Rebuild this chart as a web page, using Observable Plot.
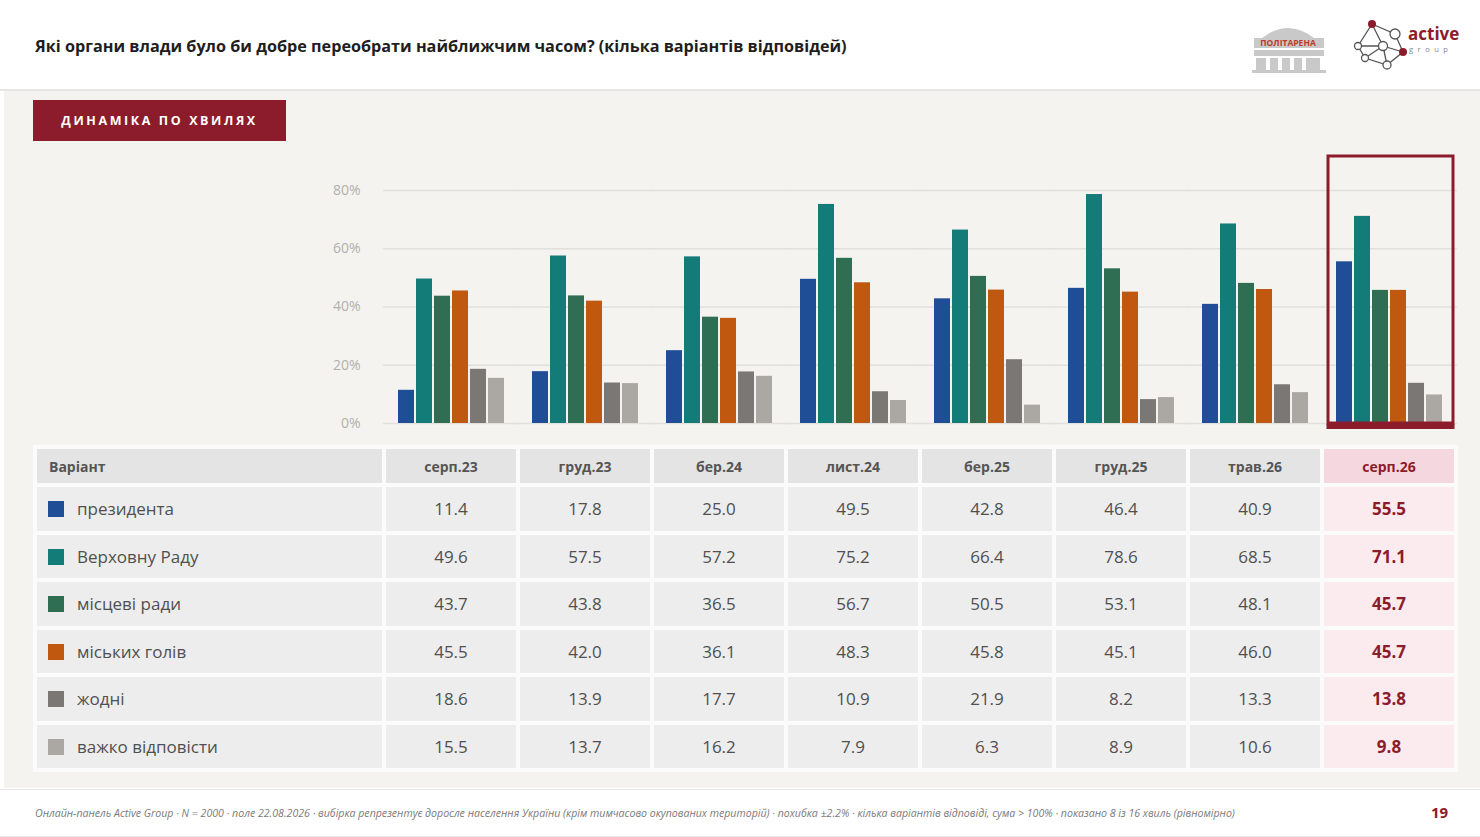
<!DOCTYPE html>
<html><head><meta charset="utf-8">
<script src="https://cdn.jsdelivr.net/npm/d3@7"></script>
<script src="https://cdn.jsdelivr.net/npm/@observablehq/plot@0.6"></script>
<style>
body{margin:0;width:1480px;height:837px;position:relative;overflow:hidden;font-family:"Open Sans",sans-serif;background:#fff;}
#header{position:absolute;left:0;top:0;width:1480px;height:89px;background:#fff;border-bottom:2px solid #e7e5e2;}
#title{position:absolute;left:35px;top:35px;font-weight:700;font-size:16.2px;line-height:22px;color:#1e1e1e;white-space:nowrap;}
#slide{position:absolute;left:4px;top:91px;width:1476px;height:697px;background:#f5f3f0;}
#badge{position:absolute;left:33px;top:100px;width:253px;height:41px;background:#8c1c2b;color:#fff;font-weight:700;font-size:12.5px;letter-spacing:2.6px;line-height:41px;text-align:center;}
#chart{position:absolute;left:0;top:140px;}
#tbl{position:absolute;left:33px;top:445px;background:#fbfbfb;border-collapse:separate;border-spacing:4px;}
#tbl th,#tbl td{padding:0;box-sizing:border-box;white-space:nowrap;}
#tbl th{height:34px;background:#e4e4e4;font-size:14px;font-weight:700;color:#555;text-align:center;width:130px;}
#tbl th.first{width:345px;text-align:left;padding-left:12px;}
#tbl td{height:43.5px;background:#ededed;font-size:17px;color:#505050;text-align:center;width:130px;}
#tbl td.first{width:345px;text-align:left;padding-left:11px;}
#tbl .sw{display:inline-block;width:16px;height:16px;vertical-align:-2px;margin-right:13px;}
#tbl th.hl{background:#f5d8df;color:#8c1c2b;}
#tbl td.hl{background:#fcebee;color:#8c1c2b;font-weight:700;}
#footer{position:absolute;left:0;top:789px;width:1480px;height:46px;background:#fff;border-top:1px solid #e6e6e6;border-bottom:2px solid #ececec;}
#note{position:absolute;left:35px;top:16px;font-style:italic;font-size:10.6px;color:#7a7a7a;white-space:nowrap;}
#page{position:absolute;left:1431px;top:12px;font-weight:700;font-size:15px;color:#8c1c2b;}
#logos{position:absolute;left:1240px;top:10px;}
</style></head>
<body>
<div id="header">
  <div id="title">Які органи влади було би добре переобрати найближчим часом? (кілька варіантів відповідей)</div>
  <svg id="logos" width="240" height="70" viewBox="0 0 240 70">
    <g fill="#c9c9c9">
      <path d="M22 28 Q48 8 74 28 Z"/>
      <rect x="14" y="28" width="70" height="10"/>
      <rect x="14" y="40" width="70" height="6"/>
      <rect x="16" y="48" width="10" height="14"/><rect x="30" y="48" width="8" height="14"/>
      <rect x="42" y="48" width="8" height="14"/><rect x="54" y="48" width="8" height="14"/>
      <rect x="66" y="48" width="14" height="14"/>
      <rect x="12" y="60" width="74" height="3"/>
    </g>
    <text x="48" y="36" text-anchor="middle" font-size="8.5" font-weight="700" fill="#c0392b" font-family="Open Sans">ПОЛІТАРЕНА</text>
    <g stroke="#555" stroke-width="1.3" fill="none">
      <path d="M132 14 L155 24 L163 42 L147 55 L125 48 L118 36 Z M132 14 L143 36 L163 42 M143 36 L125 48 M143 36 L147 55 M118 36 L143 36"/>
    </g>
    <circle cx="132" cy="14" r="4" fill="#8c1c2b"/>
    <circle cx="155" cy="24" r="5" fill="#fff" stroke="#555" stroke-width="1.3"/>
    <circle cx="163" cy="42" r="4" fill="#8c1c2b"/>
    <circle cx="147" cy="55" r="4" fill="#fff" stroke="#555" stroke-width="1.3"/>
    <circle cx="125" cy="48" r="3.5" fill="#fff" stroke="#555" stroke-width="1.3"/>
    <circle cx="118" cy="36" r="3.5" fill="#fff" stroke="#555" stroke-width="1.3"/>
    <circle cx="143" cy="36" r="4.5" fill="#fff" stroke="#555" stroke-width="1.3"/>
    <text x="168" y="30" font-size="17" font-weight="700" fill="#8c1c2b" font-family="Open Sans">active</text>
    <text x="169" y="42" font-size="7.5" letter-spacing="4.5" fill="#888" font-family="Open Sans">group</text>
  </svg>
</div>
<div id="slide"></div>
<div id="badge">ДИНАМІКА ПО ХВИЛЯХ</div>
<div id="chart"></div>
<table id="tbl"></table>
<div id="footer">
  <div id="note">Онлайн-панель Active Group · N = 2000 · поле 22.08.2026 · вибірка репрезентує доросле населення України (крім тимчасово окупованих територій) · похибка ±2.2% · кілька варіантів відповіді, сума &gt; 100% · показано 8 із 16 хвиль (рівномірно)</div>
  <div id="page">19</div>
</div>
<script>
const waves = ["серп.23","груд.23","бер.24","лист.24","бер.25","груд.25","трав.26","серп.26"];
const seriesNames = ["президента","Верховну Раду","місцеві ради","міських голів","жодні","важко відповісти"];
const seriesColors = ["#1f4e97","#137b78","#2f6e53","#c1580f","#7b7775","#aba8a4"];
const president = [11.4,17.8,25.0,49.5,42.8,46.4,40.9,55.5];
const rada      = [49.6,57.5,57.2,75.2,66.4,78.6,68.5,71.1];
const localCouncils = [43.7,43.8,36.5,56.7,50.5,53.1,48.1,45.7];
const mayors    = [45.5,42.0,36.1,48.3,45.8,45.1,46.0,45.7];
const noneOf    = [18.6,13.9,17.7,10.9,21.9,8.2,13.3,13.8];
const hardToSay = [15.5,13.7,16.2,7.9,6.3,8.9,10.6,9.8];
const yTicks = [0,20,40,60,80];
const highlightWave = "серп.26";
const yMax = 92;

const seriesValues = [president, rada, localCouncils, mayors, noneOf, hardToSay];
const rows = waves.flatMap((w,i)=>seriesNames.map((s,j)=>({wave:w, series:s, value:seriesValues[j][i]})));
const RED = "#8c1c2b";

const chart = Plot.plot({
  width:1480, height:300, marginLeft:396, marginRight:36, marginTop:15, marginBottom:17,
  style:{background:"transparent", fontFamily:"Open Sans", fontSize:"14px"},
  fx:{domain:waves, padding:0.18, axis:null, label:null},
  x:{domain:seriesNames, padding:0.1, axis:null},
  y:{domain:[0,yMax]},
  color:{domain:seriesNames, range:seriesColors},
  marks:[
    Plot.ruleY(yTicks, {stroke:"#e2e0dc", strokeWidth:1.5, insetLeft:-13, insetRight:-13}),
    Plot.axisY(yTicks, {tickSize:0, tickPadding:36, tickFormat:d=>d+"%", label:null, color:"#b0b0b0", fontSize:14}),
    Plot.barY(rows, {fx:"wave", x:"series", y:"value", fill:"series"}),
    Plot.rect([highlightWave], {fx:d=>d, y1:()=>0, y2:()=>yMax, fill:"none", stroke:RED, strokeWidth:3, insetLeft:-6, insetRight:-9, insetTop:1}),
    Plot.ruleY([highlightWave], {fx:d=>d, y:()=>0, stroke:RED, strokeWidth:5, dy:3, insetLeft:-7.5, insetRight:-10.5})
  ]
});
document.getElementById("chart").appendChild(chart);

// table
const tbl = d3.select("#tbl");
const head = tbl.append("tr");
head.append("th").attr("class","first").text("Варіант");
waves.forEach(w=>head.append("th").attr("class", w===highlightWave?"hl":null).text(w));
seriesNames.forEach((s,j)=>{
  const tr = tbl.append("tr");
  const td = tr.append("td").attr("class","first");
  td.append("span").attr("class","sw").style("background", seriesColors[j]);
  td.append("span").text(s);
  waves.forEach((w,i)=>tr.append("td").attr("class", w===highlightWave?"hl":null).text(seriesValues[j][i].toFixed(1)));
});
</script>
</body></html>
